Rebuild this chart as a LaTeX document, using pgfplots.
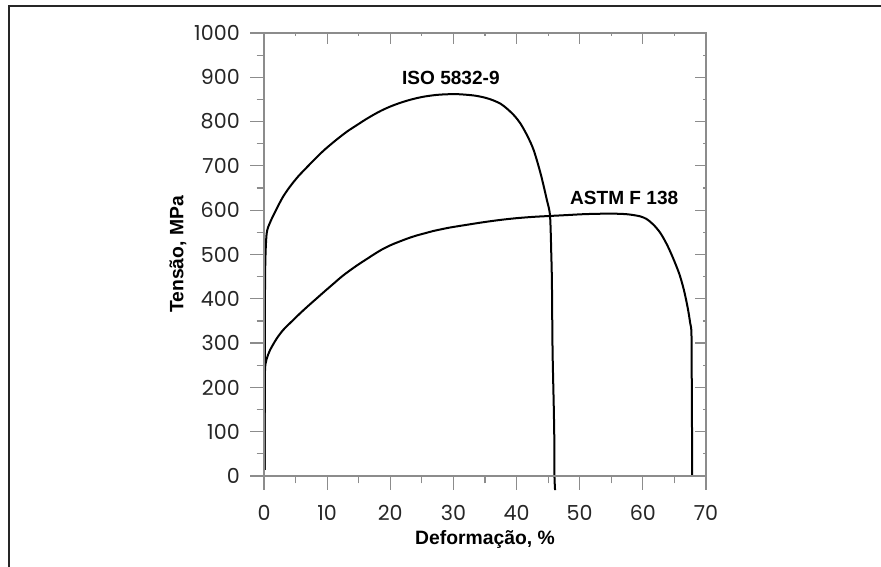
\documentclass[border=0pt]{standalone}
\usepackage{fontspec}
\setmainfont{Liberation Sans}
\newfontfamily\tickfont{Poppins}
\usepackage{pgfplots}
\pgfplotsset{compat=1.18}
\definecolor{axgray}{RGB}{140,140,140}

\pgfplotstableread{
x y
0.10 14
0.12 200
0.15 400
0.22 490
0.43 548
0.95 572
2.0 603
3.0 630
4.1 653
5.4 676
6.8 697
8.1 716
9.4 734
10.7 750
12.0 765
13.3 779
14.7 792
16.0 804
17.3 815
18.6 825
20.0 834
21.3 841
22.6 847
23.9 852
25.2 856
26.6 859
28.0 861
30.5 862
33.2 859
35.0 854
36.3 848
37.5 840
38.5 829
39.6 814
40.6 796
41.7 768
42.7 736
43.8 683
44.8 623
45.3 587
45.5 500
45.6 435
45.7 284
45.9 150
46.0 59
46.0 0
46.1 -32
}\isodata

\pgfplotstableread{
x y
0.10 14
0.12 150
0.16 239
0.40 263
0.95 284
2.0 310
3.06 330
4.4 349
5.7 367
7.0 384
8.35 401
9.7 418
11.0 434
12.3 450
13.6 464
15.0 478
16.3 490
17.6 502
18.9 513
20.2 522
21.6 530
22.9 537
24.2 543
25.5 548
26.8 553
28.1 557
29.5 561
32.1 567
34.8 573
37.4 578
40.0 582
42.7 585
45.3 587
48.0 589
50.6 591
53.3 592
55.9 592
57.4 591
58.5 589
59.6 586
60.6 580
61.7 567
62.8 548
63.9 520
64.9 488
65.8 455
66.5 420
67.1 380
67.5 345
67.7 320
67.75 200
67.8 59
67.8 0
}\astmdata

\begin{document}
\begin{tikzpicture}
  \useasboundingbox (0,0) rectangle (660.75pt,425.25pt);
  \draw[line width=1.5pt,black!85] (6.75pt,0) -- (6.75pt,420.75pt) -- (660.75pt,420.75pt);

  \begin{axis}[
    at={(198pt,68.25pt)}, anchor=south west,
    scale only axis, width=331.5pt, height=332.25pt,
    xmin=0, xmax=70, ymin=0, ymax=1000,
    xtick={0,10,...,70}, ytick={0,100,...,1000},
    minor x tick num=1, minor y tick num=1,
    xtick pos=lower, ytick pos=left,
    tick align=outside,
    major tick length=10.5pt, minor tick length=5.5pt,
    axis line style={axgray,line width=0.9pt},
    every tick/.style={axgray,line width=0.9pt},
    /pgf/number format/assume math mode=true,
    /pgf/number format/1000 sep={},
    ticklabel style={font=\tickfont\fontsize{15.5}{17}\selectfont,inner sep=3pt,text=black!85},
    xticklabel style={yshift=-8pt},
    yticklabel style={xshift=-4.5pt},
    xlabel={Deformação, \%},
    ylabel={Tensão, MPa},
    label style={font=\bfseries\fontsize{14.5}{16}\selectfont},
    xlabel style={at={(axis description cs:0.5,0)},anchor=center,yshift=-47.25pt},
    ylabel style={at={(axis description cs:0,0.5)},anchor=center,rotate=0,yshift=64.5pt},
    clip=false,
  ]
    \addplot[black,line width=1.5pt,smooth] table[x=x,y=y] {\isodata};
    \addplot[black,line width=1.5pt,smooth] table[x=x,y=y] {\astmdata};
    \node[font=\bfseries\fontsize{14.3}{16}\selectfont] at (axis cs:29.6,898) {ISO 5832-9};
    \node[font=\bfseries\fontsize{14.3}{16}\selectfont] at (axis cs:57.05,627) {ASTM F 138};
  \end{axis}

  \begin{axis}[
    at={(198pt,68.25pt)}, anchor=south west,
    scale only axis, width=331.5pt, height=332.25pt,
    xmin=0, xmax=70, ymin=0, ymax=1000,
    xtick={0,10,...,70}, ytick={0,100,...,1000},
    minor x tick num=1, minor y tick num=1,
    xtick pos=upper, ytick pos=right,
    tick align=inside,
    major tick length=8pt, minor tick length=2.5pt,
    axis line style={axgray,line width=0.9pt},
    every tick/.style={axgray,line width=0.9pt},
    xticklabels={}, yticklabels={},
  ]
  \end{axis}
\end{tikzpicture}
\end{document}
